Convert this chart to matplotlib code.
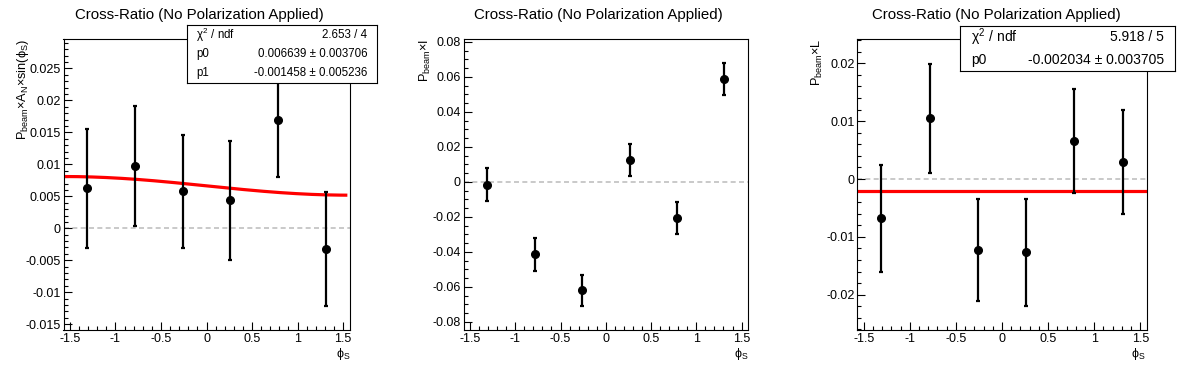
import numpy as np
import matplotlib
matplotlib.use("Agg")
import matplotlib.pyplot as plt
from matplotlib.ticker import MultipleLocator, FuncFormatter

plt.rcParams["font.family"] = ["Liberation Sans", "DejaVu Sans"]
plt.rcParams["mathtext.fontset"] = "custom"
plt.rcParams["mathtext.rm"] = "Liberation Sans"
plt.rcParams["mathtext.it"] = "Liberation Sans"
plt.rcParams["mathtext.bf"] = "Liberation Sans:bold"
plt.rcParams["axes.unicode_minus"] = False

# data
phi_s = [-1.309, -0.785, -0.262, 0.262, 0.785, 1.309]

an_vals = [0.00625, 0.00974, 0.00578, 0.00438, 0.0169, -0.00328]
an_errs = [0.0093, 0.0094, 0.0088, 0.0093, 0.0088, 0.0089]

i_vals = [-0.0015, -0.0413, -0.0619, 0.0124, -0.0208, 0.0587]
i_errs = [0.0092, 0.0095, 0.0090, 0.0092, 0.0091, 0.0090]

l_vals = [-0.0068, 0.0105, -0.0123, -0.0127, 0.0065, 0.0029]
l_errs = [0.0092, 0.0094, 0.0088, 0.0093, 0.0090, 0.0090]

# fit results
an_p0, an_p1 = 0.006639, -0.001458
l_p0 = -0.002034

an_stats = [(r"$\chi^{2}$ / ndf", "2.653 / 4"),
            ("p0", "0.006639 ± 0.003706"),
            ("p1", "-0.001458 ± 0.005236")]
l_stats = [(r"$\chi^{2}$ / ndf", "5.918 / 5"),
           ("p0", "-0.002034 ± 0.003705")]

title = "Cross-Ratio (No Polarization Applied)"
ylabels = [r"P$_{\rm beam}$$\times$A$_{\rm N}$$\times$sin($\phi_{\rm S}$)",
           r"P$_{\rm beam}$$\times$I",
           r"P$_{\rm beam}$$\times$L"]

W, H = 1196, 372
fig = plt.figure(figsize=(W / 100, H / 100), dpi=100)


def box(l, t, r, b):
    return [l / W, 1 - b / H, (r - l) / W, (b - t) / H]


def fmt(v, pos):
    return "%g" % round(v, 6)


def setup(ax, ylim, ymaj, ymin):
    ax.set_xlim(-1.571, 1.571)
    ax.set_ylim(*ylim)
    ax.xaxis.set_major_locator(MultipleLocator(0.5))
    ax.xaxis.set_minor_locator(MultipleLocator(0.1))
    ax.yaxis.set_major_locator(MultipleLocator(ymaj))
    ax.yaxis.set_minor_locator(MultipleLocator(ymin))
    ax.xaxis.set_major_formatter(FuncFormatter(fmt))
    ax.yaxis.set_major_formatter(FuncFormatter(fmt))
    ax.tick_params(which="both", direction="in", top=False, right=False,
                   width=0.8, labelsize=9)
    ax.tick_params(which="major", length=6)
    ax.tick_params(which="minor", length=3)
    ax.tick_params(axis="y", pad=2)
    ax.tick_params(axis="x", pad=2.5)
    for s in ax.spines.values():
        s.set_linewidth(0.8)
    ax.axhline(0, color="#c0c0c0", ls=(0, (3, 2)), lw=1.2, zorder=1)


def points(ax, vals, errs):
    ax.errorbar(phi_s, vals, yerr=errs, fmt="o", color="black", ms=5.5,
                elinewidth=1.6, capsize=1.6, capthick=1.6, zorder=3)


def stats_box(rect, rows, fs):
    sb = fig.add_axes(rect)
    sb.set_xticks([])
    sb.set_yticks([])
    sb.set_facecolor("white")
    for s in sb.spines.values():
        s.set_linewidth(0.8)
    n = len(rows)
    for k, (name, val) in enumerate(rows):
        y = 1 - (k + 0.5) / n
        sb.text(0.05, y, name, ha="left", va="center", fontsize=fs)
        sb.text(0.95, y, val, ha="right", va="center", fontsize=fs)


axes_px = [(63.5, 39, 349.5, 330), (463.6, 39, 748, 330), (857.2, 39, 1146.8, 330)]
ylims = [(-0.0159, 0.0296), (-0.0846, 0.0817), (-0.0261, 0.0242)]
ymajs = [0.005, 0.02, 0.01]
ymins = [0.001, 0.005, 0.002]
ylab_x = [23, 425, 817]
xlab_x = [343, 741, 1138]

axs = []
for k in range(3):
    ax = fig.add_axes(box(*axes_px[k]))
    setup(ax, ylims[k], ymajs[k], ymins[k])
    axs.append(ax)
    fig.text((k + 0.5) / 3, 1 - 15 / H, title, ha="center", va="center",
             fontsize=10.8)
    fig.text(ylab_x[k] / W, 1 - 39 / H, ylabels[k], rotation=90,
             ha="center", va="top", fontsize=9.2)
    fig.text(xlab_x[k] / W, 1 - 346 / H, r"$\phi_{\rm S}$", ha="center",
             va="top", fontsize=9)

points(axs[0], an_vals, an_errs)
points(axs[1], i_vals, i_errs)
points(axs[2], l_vals, l_errs)

xf = np.linspace(-1.571, 1.53, 200)
axs[0].plot(xf, an_p0 + an_p1 * np.sin(xf), color="red", lw=2.3, zorder=2)
xf3 = np.linspace(-1.571, 1.571, 2)
axs[2].plot(xf3, np.full_like(xf3, l_p0), color="red", lw=2.3, zorder=2)

stats_box(box(187, 25, 377, 83), an_stats, 8.3)
stats_box(box(960, 26, 1175, 71), l_stats, 10)

fig.savefig("out.png", dpi=100)
